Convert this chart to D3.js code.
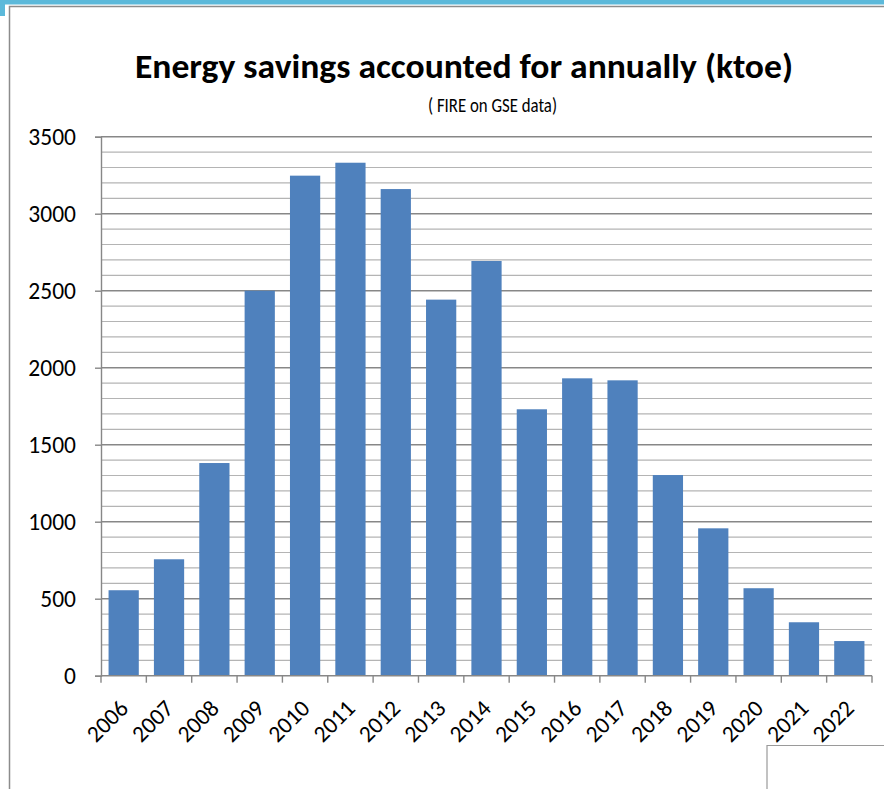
<!DOCTYPE html>
<html>
<head>
<meta charset="utf-8">
<script src="https://cdn.jsdelivr.net/npm/d3@7"></script>
<style>
  html, body { margin: 0; padding: 0; background: #fff; }
  svg { display: block; }
  text { font-family: Calibri, Carlito, Lato, "Open Sans", sans-serif; fill: #000; }
</style>
</head>
<body>
<svg id="chart" width="884" height="789"></svg>
<script>
// Annual energy savings (ktoe), white certificates
const years = ["2006","2007","2008","2009","2010","2011","2012","2013","2014",
               "2015","2016","2017","2018","2019","2020","2021","2022"];
const savings = [555, 756, 1381, 2500, 3247, 3331, 3160, 2442, 2693,
                 1730, 1931, 1918, 1303, 957, 568, 347, 225];
const yTicks = [0, 500, 1000, 1500, 2000, 2500, 3000, 3500];
const titleText = "Energy savings accounted for annually (ktoe)";
const subtitleText = "( FIRE on GSE data)";

const svg = d3.select("#chart");
const W = 884, H = 789;
const plot = { left: 101, right: 872, top: 136.7, bottom: 675.7 };
const labelFont = "Calibri, Carlito, Lato, sans-serif";

// slide frame: light blue band at the top-left corner
svg.append("rect").attr("x", 0).attr("y", 0).attr("width", W).attr("height", 4.5).attr("fill", "#5cb9da");
svg.append("rect").attr("x", 0).attr("y", 0).attr("width", 5).attr("height", 16).attr("fill", "#5cb9da");
// chart border
svg.append("path")
  .attr("d", `M9.5,${H} V6.5 H${W}`)
  .attr("fill", "none").attr("stroke", "#8c8c8c").attr("stroke-width", 1.5);
// small box at lower right
svg.append("path")
  .attr("d", `M767,${H} V745.5 H${W}`)
  .attr("fill", "none").attr("stroke", "#9a9a9a").attr("stroke-width", 1.2);

const x = d3.scaleBand().domain(years).range([plot.left, plot.right]).paddingInner(1/3).paddingOuter(1/6);
const y = d3.scaleLinear().domain([0, 3500]).range([plot.bottom, plot.top]);

// gridlines: minor every 100, major every 500
const minor = d3.range(100, 3500 + 1, 100).filter(v => v % 500 !== 0);
svg.append("g").selectAll("line").data(minor).join("line")
  .attr("x1", plot.left).attr("x2", plot.right)
  .attr("y1", d => y(d)).attr("y2", d => y(d))
  .attr("stroke", "#b4b4b4").attr("stroke-width", 1.2);
svg.append("g").selectAll("line").data(yTicks.filter(v => v > 0)).join("line")
  .attr("x1", plot.left).attr("x2", plot.right)
  .attr("y1", d => y(d)).attr("y2", d => y(d))
  .attr("stroke", "#878787").attr("stroke-width", 1.4);

// bars
svg.append("g").selectAll("rect").data(years).join("rect")
  .attr("x", d => x(d))
  .attr("width", x.bandwidth())
  .attr("y", (d, i) => y(savings[i]))
  .attr("height", (d, i) => y(0) - y(savings[i]))
  .attr("fill", "#4f81bd");

// y axis
const yAxis = d3.axisLeft(y).tickValues(yTicks).tickSize(6).tickPadding(19).tickFormat(d3.format("d"));
const gy = svg.append("g").attr("transform", `translate(${plot.left},0)`).call(yAxis);
gy.select(".domain").attr("stroke", "#878787").attr("stroke-width", 1.4);
gy.selectAll(".tick line").attr("stroke", "#878787").attr("stroke-width", 1.4);
gy.selectAll(".tick text").attr("font-size", 23.5).attr("font-family", labelFont).attr("fill", "#000").attr("dy", "0.34em");

// x axis: tick marks at category boundaries
const step = x.step();
const bounds = d3.range(years.length + 1).map(i => plot.left + i * step);
svg.append("line").attr("x1", plot.left).attr("x2", plot.right)
  .attr("y1", y(0)).attr("y2", y(0)).attr("stroke", "#878787").attr("stroke-width", 1.4);
svg.append("g").selectAll("line").data(bounds).join("line")
  .attr("x1", d => d).attr("x2", d => d)
  .attr("y1", y(0)).attr("y2", y(0) + 7)
  .attr("stroke", "#878787").attr("stroke-width", 1.4);

// rotated year labels
svg.append("g").selectAll("text").data(years).join("text")
  .attr("transform", d => `translate(${x(d) + x.bandwidth() / 2 + 6},${y(0) + 34}) rotate(-45)`)
  .attr("text-anchor", "end")
  .attr("font-size", 23.5)
  .text(d => d);

// titles
svg.append("text").attr("x", 464).attr("y", 78)
  .attr("text-anchor", "middle").attr("font-weight", "bold").attr("font-size", 34)
  .attr("textLength", 658).attr("lengthAdjust", "spacingAndGlyphs")
  .text(titleText);
svg.append("text").attr("x", 492.5).attr("y", 111.5)
  .attr("text-anchor", "middle").attr("font-size", 20)
  .attr("textLength", 129).attr("lengthAdjust", "spacingAndGlyphs")
  .text(subtitleText);
</script>
</body>
</html>
